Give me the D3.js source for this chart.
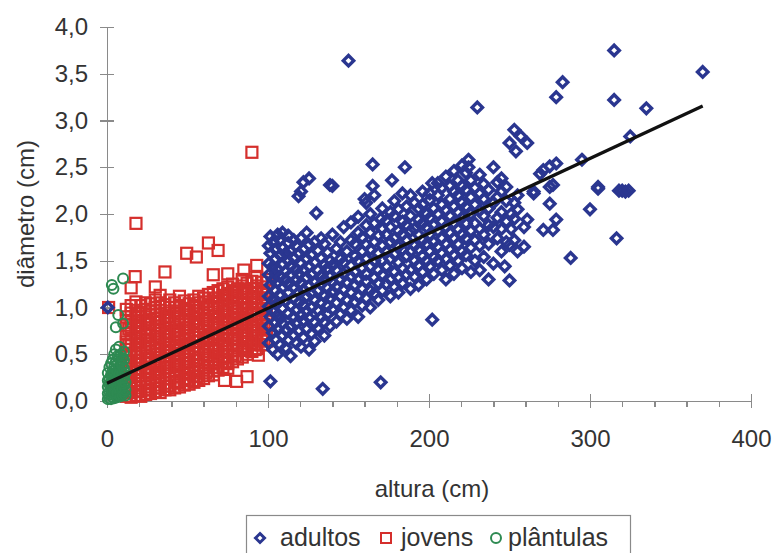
<!DOCTYPE html>
<html lang="pt">
<head>
  <meta charset="UTF-8">
  <title>Altura x diâmetro</title>
  <script src="https://d3js.org/d3.v7.min.js"></script>
  <style>
    body { margin: 0; background: #fff; }
    svg { display: block; background: #fff; font-family: "Liberation Sans", Arial, sans-serif; }
    .axis path, .axis line { stroke: #8a8a8a; stroke-width: 1.3; shape-rendering: crispEdges; }
    .axis text { font-size: 24px; fill: #333; font-family: "Liberation Sans", Arial, sans-serif; }
    .axis-title { font-size: 24px; fill: #333; }
    .legend-text { font-size: 25px; fill: #333; }
  </style>
</head>
<body>
<svg width="778" height="553"></svg>
<script>
  // axes
  const xTicks = [0, 100, 200, 300, 400];
  const xMinorTicks = [20, 40, 60, 80, 120, 140, 160, 180, 220, 240, 260, 280, 320, 340, 360, 380];
  const yTicks = [0, 0.5, 1, 1.5, 2, 2.5, 3, 3.5, 4];
  const seriesNames = ["adultos", "jovens", "plântulas"];

  // data as [altura, [diâmetros...]] columns
  const adultos = [
    [0.5, [1.0]],
    [100.5, [0.62, 0.8, 1.01, 1.12, 1.35, 1.47, 1.66]],
    [101.5, [0.21, 0.9, 1.24, 1.58, 1.76]],
    [103, [0.55, 0.73, 0.96, 1.08, 1.3, 1.44, 1.7]],
    [104.5, [0.66, 0.84, 1.18, 1.36, 1.52, 1.62]],
    [106, [0.5, 0.77, 0.92, 1.05, 1.27, 1.41, 1.78]],
    [107.5, [0.6, 0.88, 1.14, 1.33, 1.56, 1.72]],
    [109, [0.7, 0.83, 0.99, 1.21, 1.46, 1.64, 1.8]],
    [111, [0.57, 0.76, 1.07, 1.3, 1.39, 1.58]],
    [112.5, [0.65, 0.94, 1.16, 1.25, 1.5, 1.69, 1.77]],
    [114, [0.48, 0.8, 1.02, 1.35, 1.44, 1.6]],
    [116, [0.7, 0.9, 1.1, 1.22, 1.53, 1.72]],
    [117.5, [0.62, 0.83, 0.97, 1.29, 1.41, 1.66]],
    [119, [0.75, 1.05, 1.16, 1.36, 1.58, 2.19]],
    [120.5, [0.58, 0.92, 1.26, 1.47, 1.74, 2.24]],
    [122, [0.68, 0.86, 1.03, 1.19, 1.4, 1.62, 2.34]],
    [124, [0.77, 0.96, 1.12, 1.32, 1.52, 1.8]],
    [125.5, [0.55, 0.89, 1.23, 1.44, 1.67, 2.38]],
    [127, [0.72, 1.0, 1.15, 1.35, 1.56]],
    [129, [0.64, 0.84, 1.08, 1.27, 1.48, 1.7]],
    [130, [2.01]],
    [131, [0.78, 0.97, 1.18, 1.4, 1.61]],
    [133, [0.9, 1.05, 1.25, 1.34, 1.53, 1.74]],
    [134, [0.13]],
    [135, [0.7, 0.84, 1.12, 1.3, 1.46, 1.68]],
    [137, [0.93, 1.02, 1.21, 1.42, 1.59]],
    [138.5, [0.8, 1.1, 1.33, 1.5, 2.31]],
    [140, [0.98, 1.17, 1.27, 1.45, 1.78, 2.3]],
    [142.5, [0.85, 1.05, 1.22, 1.4, 1.63]],
    [145, [0.93, 1.12, 1.3, 1.52, 1.7]],
    [147, [1.0, 1.19, 1.36, 1.48, 1.86]],
    [149, [0.88, 1.08, 1.27, 1.6]],
    [150, [3.64]],
    [151.5, [0.97, 1.16, 1.33, 1.45, 1.72, 1.91]],
    [154, [1.06, 1.24, 1.38, 1.55, 1.68]],
    [156, [0.9, 1.12, 1.3, 1.5, 1.8, 1.97]],
    [158.5, [1.02, 1.2, 1.42, 1.6, 1.75]],
    [160, [2.16]],
    [161, [1.1, 1.28, 1.36, 1.52, 1.67, 1.88, 2.12]],
    [163.5, [1.0, 1.18, 1.44, 1.62, 1.8, 2.0]],
    [165, [2.53, 2.3]],
    [166, [1.15, 1.32, 1.5, 1.7, 1.9, 2.2]],
    [168.5, [1.08, 1.26, 1.4, 1.58, 1.77]],
    [170, [0.2, 1.95]],
    [171, [1.18, 1.35, 1.5, 1.66, 1.84, 2.06]],
    [173.5, [1.25, 1.44, 1.6, 1.78, 1.93]],
    [176, [1.12, 1.3, 1.52, 1.7, 1.86, 2.02]],
    [177, [2.36]],
    [178.5, [1.22, 1.38, 1.57, 1.74, 1.98, 2.14]],
    [181, [1.16, 1.32, 1.48, 1.65, 1.82, 2.05]],
    [183.5, [1.26, 1.42, 1.62, 1.78, 1.92, 2.22]],
    [185, [2.5]],
    [186, [1.35, 1.55, 1.72, 1.88, 2.08]],
    [188.5, [1.2, 1.4, 1.6, 1.82, 1.98, 2.2]],
    [191, [1.33, 1.5, 1.66, 1.84, 2.12]],
    [193.5, [1.24, 1.45, 1.62, 1.78, 1.94, 2.06]],
    [196, [1.38, 1.55, 1.72, 1.9, 2.1, 2.24]],
    [198.5, [1.3, 1.5, 1.68, 1.86, 2.0]],
    [200.5, [1.44, 1.6, 1.78, 1.96, 2.15, 2.22]],
    [202, [0.87, 2.33]],
    [203, [1.36, 1.54, 1.7, 1.88, 2.06]],
    [205.5, [1.5, 1.65, 1.82, 2.0, 2.2, 2.33]],
    [208, [1.4, 1.58, 1.74, 1.92, 2.1, 2.28]],
    [210.5, [1.3, 1.52, 1.68, 1.86, 2.04, 2.4]],
    [213, [1.45, 1.62, 1.8, 1.98, 2.16, 2.3]],
    [215.5, [1.36, 1.56, 1.74, 1.9, 2.08, 2.24, 2.46]],
    [218, [1.5, 1.68, 1.84, 2.02, 2.2, 2.36]],
    [220.5, [1.42, 1.6, 1.78, 1.96, 2.12, 2.3, 2.52]],
    [223, [1.56, 1.74, 1.9, 2.08, 2.26, 2.44]],
    [224.5, [2.5, 2.58]],
    [226, [1.38, 1.64, 1.82, 2.0, 2.18, 2.36]],
    [228.5, [1.5, 1.72, 1.9, 2.1, 2.28]],
    [230, [3.14]],
    [231.5, [1.4, 1.66, 1.84, 2.04, 2.22, 2.42]],
    [234, [1.54, 1.78, 1.98, 2.16, 2.32]],
    [237, [1.3, 1.68, 1.88, 2.06, 2.26]],
    [240, [1.47, 1.86, 2.12, 2.5]],
    [242.5, [1.74, 1.96, 2.18, 2.34]],
    [245, [1.6, 1.84, 2.02, 2.24, 2.38]],
    [247, [1.44]],
    [248, [1.7, 1.92, 2.14, 2.29]],
    [250, [1.29, 1.67, 2.76]],
    [251, [1.84, 2.0]],
    [253, [1.72, 1.95, 2.12, 2.9]],
    [254, [2.67]],
    [255, [1.6, 2.05, 2.2]],
    [257, [2.83]],
    [259, [1.65, 1.86]],
    [261, [1.94, 2.76]],
    [265, [2.22, 2.24]],
    [269, [2.43]],
    [271, [1.83, 2.47]],
    [275, [2.11, 2.29, 2.51]],
    [277, [1.83, 2.31]],
    [279, [1.94, 2.54, 3.25]],
    [283, [3.41]],
    [288, [1.53]],
    [295, [2.58]],
    [300, [2.05]],
    [305, [2.27, 2.29]],
    [315, [3.75, 3.22]],
    [316.5, [1.74]],
    [318, [2.25]],
    [320, [2.25]],
    [322, [2.24]],
    [324, [2.25]],
    [325, [2.83]],
    [335, [3.13]],
    [370, [3.52]]
  ];

  const jovens = [
    [1, [1.0]],
    [12, [0.05, 0.13, 0.21, 0.3, 0.38, 0.47, 0.55, 0.63, 0.72, 0.81, 0.9, 0.98]],
    [13.5, [0.09, 0.26, 0.43, 0.6, 0.77]],
    [15, [0.04, 0.1, 0.17, 0.25, 0.34, 0.42, 0.5, 0.59, 0.67, 0.76, 0.85, 0.94, 1.02, 1.21]],
    [17.5, [1.33]],
    [18, [0.06, 0.14, 0.22, 0.3, 0.39, 0.47, 0.55, 0.64, 0.72, 0.8, 0.89, 0.97, 1.06, 1.9]],
    [19.5, [0.1, 0.27, 0.44, 0.62, 0.8, 0.93]],
    [21, [0.05, 0.11, 0.19, 0.27, 0.35, 0.43, 0.52, 0.6, 0.69, 0.78, 0.86, 0.95, 1.02]],
    [24, [0.07, 0.15, 0.23, 0.31, 0.4, 0.48, 0.56, 0.65, 0.73, 0.82, 0.9, 0.98, 1.05]],
    [25.5, [0.12, 0.3, 0.46, 0.64, 0.84]],
    [27, [0.08, 0.12, 0.2, 0.28, 0.36, 0.45, 0.53, 0.61, 0.7, 0.78, 0.87, 0.96, 1.04]],
    [30, [0.1, 0.17, 0.25, 0.33, 0.41, 0.5, 0.58, 0.66, 0.75, 0.84, 0.92, 1.0, 1.08, 1.22]],
    [31.5, [0.14, 0.31, 0.5, 0.69, 0.88]],
    [33, [0.09, 0.14, 0.22, 0.3, 0.39, 0.47, 0.55, 0.63, 0.72, 0.8, 0.89, 0.97, 1.05, 1.13]],
    [36, [0.12, 0.19, 0.27, 0.35, 0.44, 0.52, 0.6, 0.69, 0.77, 0.86, 0.94, 1.03, 1.38]],
    [37.5, [0.16, 0.36, 0.54, 0.72, 0.9]],
    [39, [0.12, 0.16, 0.24, 0.32, 0.41, 0.49, 0.57, 0.66, 0.74, 0.83, 0.91, 1.0, 1.08]],
    [42, [0.14, 0.21, 0.29, 0.37, 0.46, 0.54, 0.62, 0.71, 0.79, 0.88, 0.96, 1.05]],
    [43.5, [0.2, 0.39, 0.57, 0.75, 0.94]],
    [45, [0.15, 0.19, 0.26, 0.34, 0.43, 0.51, 0.59, 0.68, 0.76, 0.85, 0.93, 1.02, 1.12]],
    [48, [0.17, 0.24, 0.31, 0.4, 0.48, 0.56, 0.65, 0.73, 0.82, 0.9, 0.99, 1.07]],
    [49.5, [0.22, 0.41, 0.6, 0.78, 0.97, 1.58]],
    [51, [0.18, 0.22, 0.29, 0.37, 0.45, 0.53, 0.62, 0.7, 0.79, 0.87, 0.96, 1.04]],
    [54, [0.2, 0.27, 0.35, 0.43, 0.51, 0.59, 0.68, 0.76, 0.85, 0.93, 1.02, 1.08]],
    [55.5, [0.26, 0.44, 0.64, 0.83, 1.0, 1.54]],
    [57, [0.22, 0.3, 0.38, 0.46, 0.55, 0.63, 0.71, 0.8, 0.88, 0.97, 1.05, 1.12]],
    [60, [0.24, 0.33, 0.41, 0.5, 0.58, 0.66, 0.75, 0.83, 0.92, 1.0, 1.1]],
    [61.5, [0.3, 0.49, 0.68, 0.87, 1.06]],
    [63, [0.27, 0.36, 0.44, 0.53, 0.61, 0.69, 0.78, 0.86, 0.95, 1.03, 1.14, 1.69]],
    [66, [0.28, 0.32, 0.4, 0.48, 0.57, 0.65, 0.73, 0.82, 0.9, 0.99, 1.07, 1.16, 1.35]],
    [67.5, [0.36, 0.55, 0.72, 0.91, 1.1]],
    [69, [0.33, 0.42, 0.5, 0.59, 0.67, 0.76, 0.84, 0.93, 1.01, 1.1, 1.18, 1.61]],
    [72, [0.36, 0.45, 0.53, 0.62, 0.7, 0.79, 0.87, 0.96, 1.04, 1.13, 1.2]],
    [73, [0.22]],
    [73.5, [0.42, 0.6, 0.78, 0.95, 1.12]],
    [75, [0.35, 0.4, 0.48, 0.56, 0.65, 0.73, 0.82, 0.9, 0.98, 1.07, 1.15, 1.22, 1.36]],
    [78, [0.42, 0.5, 0.59, 0.67, 0.76, 0.84, 0.93, 1.01, 1.1, 1.18, 1.25]],
    [79.5, [0.48, 0.66, 0.83, 1.0, 1.16]],
    [80.5, [0.21]],
    [81, [0.45, 0.54, 0.62, 0.7, 0.79, 0.87, 0.96, 1.04, 1.12, 1.2]],
    [84, [0.47, 0.56, 0.64, 0.73, 0.81, 0.9, 0.98, 1.06, 1.15, 1.23, 1.3]],
    [85, [1.4]],
    [85.5, [0.54, 0.7, 0.88, 1.05, 1.2]],
    [87, [0.26, 0.5, 0.58, 0.67, 0.75, 0.84, 0.92, 1.0, 1.09, 1.17, 1.26]],
    [90, [0.53, 0.62, 0.7, 0.79, 0.87, 0.95, 1.04, 1.12, 1.2, 1.28, 2.66]],
    [91.5, [0.6, 0.76, 0.93, 1.1]],
    [92, [0.55]],
    [93, [0.56, 0.64, 0.73, 0.81, 0.9, 0.98, 1.06, 1.15, 1.23, 1.32, 1.45]],
    [94, [0.49]],
    [96, [0.6, 0.68, 0.77, 0.85, 0.93, 1.02, 1.1, 1.18, 1.27]],
    [97.5, [0.66, 0.82, 0.99, 1.16]],
    [99, [0.64, 0.72, 0.8, 0.89, 0.97, 1.05, 1.14, 1.22, 1.3]]
  ];

  const plantulas = [
    [0.5, [0.02, 0.08, 0.15, 0.22, 0.3]],
    [1.5, [0.03, 0.1, 0.18, 0.24, 0.36]],
    [2.5, [0.02, 0.07, 0.13, 0.2, 0.28, 0.4]],
    [3, [1.24]],
    [3.5, [0.04, 0.1, 0.17, 0.24, 0.32, 0.44]],
    [4, [1.2]],
    [4.5, [0.03, 0.08, 0.14, 0.21, 0.29, 0.37, 0.5]],
    [5.5, [0.05, 0.11, 0.18, 0.26, 0.34, 0.42, 0.55, 0.79]],
    [6.5, [0.04, 0.09, 0.16, 0.23, 0.31, 0.4, 0.48]],
    [7, [0.92]],
    [7.5, [0.06, 0.12, 0.2, 0.28, 0.36, 0.47, 0.58]],
    [8.5, [0.05, 0.1, 0.17, 0.25, 0.33, 0.42, 0.5]],
    [9.5, [0.07, 0.14, 0.22, 0.3, 0.38, 0.46]],
    [10, [0.83, 1.31]],
    [10.5, [0.08, 0.16, 0.25, 0.35, 0.44, 0.53]],
    [11.5, [0.06, 0.12, 0.2, 0.3]]
  ];

  // linear trend endpoints (altura, diâmetro)
  const trendLine = [[0, 0.19], [370, 3.155]];

  const colors = { adultos: "#2a3690", jovens: "#d52f2c", plantulas: "#2e8a52" };

  const flatten = cols => cols.flatMap(([x, ys]) => ys.map(y => ({ x, y })));

  const svg = d3.select("svg");
  const x = d3.scaleLinear().domain([0, 400]).range([107, 751]);
  const y = d3.scaleLinear().domain([0, 4]).range([401, 27]);

  const pt = d3.formatLocale({ decimal: ",", thousands: ".", grouping: [3], currency: ["", ""] });
  const fmtY = pt.format(".1f");

  // minor x ticks
  svg.append("g")
    .attr("class", "axis")
    .attr("transform", "translate(0,401)")
    .call(d3.axisBottom(x).tickValues(xMinorTicks).tickSize(6).tickSizeOuter(0).tickFormat(""))
    .call(g => g.select(".domain").remove());

  // x axis
  svg.append("g")
    .attr("class", "axis")
    .attr("transform", "translate(0,401)")
    .call(d3.axisBottom(x).tickValues(xTicks).tickSize(7).tickSizeOuter(0).tickPadding(22).tickFormat(d3.format("d")))
    .call(g => g.selectAll(".tick line").attr("y1", -7));

  // y axis
  svg.append("g")
    .attr("class", "axis")
    .attr("transform", "translate(107,0)")
    .call(d3.axisLeft(y).tickValues(yTicks).tickSize(7).tickSizeOuter(0).tickPadding(12).tickFormat(fmtY))
    .call(g => g.selectAll(".tick line").attr("x1", 7));

  const plot = svg.append("g");

  // jovens (squares)
  plot.append("g")
    .selectAll("rect")
    .data(flatten(jovens))
    .join("rect")
    .attr("x", d => x(d.x) - 5.5)
    .attr("y", d => y(d.y) - 5.5)
    .attr("width", 11)
    .attr("height", 11)
    .attr("fill", "none")
    .attr("stroke", colors.jovens)
    .attr("stroke-width", 2.2);

  // adultos (diamonds)
  const diamond = "M0,-5.2L5.2,0L0,5.2L-5.2,0Z";
  plot.append("g")
    .selectAll("path")
    .data(flatten(adultos))
    .join("path")
    .attr("transform", d => `translate(${x(d.x)},${y(d.y)})`)
    .attr("d", diamond)
    .attr("fill", "none")
    .attr("stroke", colors.adultos)
    .attr("stroke-width", 3.4);

  // plântulas (circles)
  plot.append("g")
    .selectAll("circle")
    .data(flatten(plantulas))
    .join("circle")
    .attr("cx", d => x(d.x))
    .attr("cy", d => y(d.y))
    .attr("r", 5)
    .attr("fill", "none")
    .attr("stroke", colors.plantulas)
    .attr("stroke-width", 2);

  // trend line
  plot.append("path")
    .datum(trendLine)
    .attr("d", d3.line().x(d => x(d[0])).y(d => y(d[1])))
    .attr("fill", "none")
    .attr("stroke", "#111")
    .attr("stroke-width", 3.2);

  // axis titles
  svg.append("text")
    .attr("class", "axis-title")
    .attr("x", 432)
    .attr("y", 497)
    .attr("text-anchor", "middle")
    .text("altura (cm)");

  svg.append("text")
    .attr("class", "axis-title")
    .attr("transform", "rotate(-90)")
    .attr("x", -214)
    .attr("y", 34)
    .attr("text-anchor", "middle")
    .text("diâmetro (cm)");

  // legend
  const legend = svg.append("g");
  legend.append("rect")
    .attr("x", 246.5).attr("y", 515.5)
    .attr("width", 384).attr("height", 50)
    .attr("fill", "#fff")
    .attr("stroke", "#8a8a8a")
    .attr("stroke-width", 1.2);

  const legendItems = [
    { name: seriesNames[0], key: "adultos", sx: 260, tx: 280 },
    { name: seriesNames[1], key: "jovens", sx: 386, tx: 401 },
    { name: seriesNames[2], key: "plantulas", sx: 496, tx: 508 }
  ];

  legendItems.forEach(it => {
    const g = legend.append("g").attr("transform", `translate(${it.sx},538)`);
    if (it.key === "adultos") {
      g.append("path").attr("d", "M0,-4.5L4.5,0L0,4.5L-4.5,0Z")
        .attr("fill", "none").attr("stroke", colors.adultos).attr("stroke-width", 3);
    } else if (it.key === "jovens") {
      g.append("rect").attr("x", -5).attr("y", -5).attr("width", 10).attr("height", 10)
        .attr("fill", "none").attr("stroke", colors.jovens).attr("stroke-width", 2);
    } else {
      g.append("circle").attr("r", 5)
        .attr("fill", "none").attr("stroke", colors.plantulas).attr("stroke-width", 2);
    }
    legend.append("text")
      .attr("class", "legend-text")
      .attr("x", it.tx)
      .attr("y", 546)
      .text(it.name);
  });
</script>
</body>
</html>
